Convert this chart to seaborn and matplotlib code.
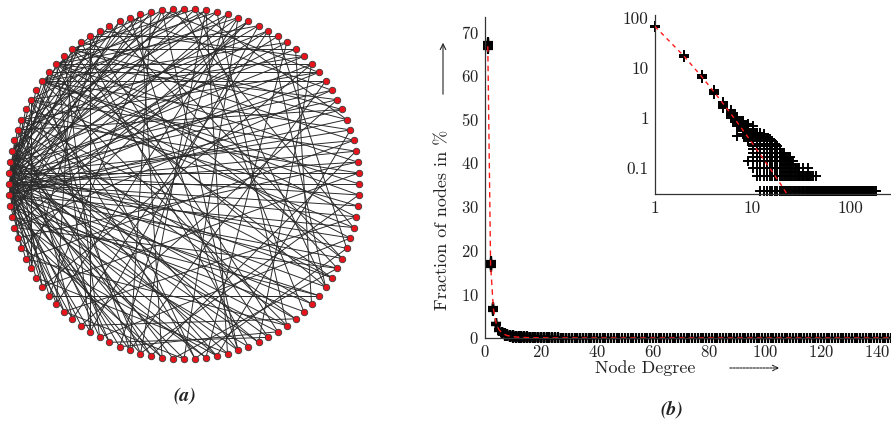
import numpy as np
import pandas as pd
import matplotlib
matplotlib.use("Agg")
import matplotlib.pyplot as plt
import seaborn as sns
from matplotlib.collections import LineCollection
from matplotlib.ticker import FixedLocator, NullLocator

# ---------------- panel (a): network on a circle ----------------
N_NET = 100
edges = [
    (50, 0), (50, 2), (50, 97), (50, 5), (50, 10), (50, 15), (50, 20), (50, 28), (50, 33),
    (50, 60), (50, 65), (50, 70), (50, 75), (50, 80), (50, 85), (50, 88), (50, 92), (50, 95),
    (50, 98), (50, 3), (50, 12), (50, 56), (50, 62), (50, 24), (50, 78),
    (49, 1), (49, 4), (49, 8), (49, 13), (49, 18), (49, 22), (49, 30), (49, 58), (49, 63),
    (49, 68), (49, 73), (49, 82), (49, 90), (49, 94), (49, 99), (49, 27),
    (51, 6), (51, 11), (51, 17), (51, 26), (51, 59), (51, 66), (51, 72), (51, 77), (51, 84),
    (51, 89), (51, 93), (51, 96), (51, 7),
    (48, 9), (48, 14), (48, 19), (48, 23), (48, 31), (48, 61), (48, 69), (48, 79), (48, 86),
    (48, 91), (48, 55),
    (52, 16), (52, 21), (52, 57), (52, 64), (52, 71), (52, 81), (52, 87), (52, 35),
    (47, 25), (47, 29), (47, 67), (47, 74), (47, 83), (47, 32),
    (40, 0), (40, 10), (40, 20), (40, 25), (40, 5), (40, 15), (40, 95), (40, 85), (40, 99),
    (40, 70), (40, 34),
    (38, 2), (38, 12), (38, 22), (38, 27), (38, 8), (38, 18), (38, 97), (38, 90), (38, 76),
    (38, 66),
    (36, 4), (36, 14), (36, 24), (36, 6), (36, 93), (36, 83), (36, 62), (36, 28),
    (42, 3), (42, 13), (42, 23), (42, 96), (42, 80), (42, 71), (42, 58),
    (44, 1), (44, 11), (44, 21), (44, 91), (44, 86), (44, 64),
    (45, 7), (45, 17), (45, 88), (45, 78), (45, 68),
    (54, 9), (54, 19), (54, 92), (54, 73), (54, 63),
    (46, 26), (46, 82), (46, 72), (46, 60),
    (53, 29), (53, 31), (53, 89), (53, 77),
    (50, 36), (50, 38), (50, 40), (50, 42), (49, 37), (49, 39), (51, 41), (51, 43),
    (48, 35), (52, 39), (50, 44), (49, 45), (51, 46),
    (1, 60), (3, 72), (5, 78), (8, 65), (10, 70), (12, 82), (14, 88), (16, 94), (18, 66),
    (20, 75), (22, 85), (24, 90), (26, 96), (28, 70), (30, 80), (32, 92), (34, 84), (6, 24),
    (9, 30), (11, 27), (13, 33), (15, 77), (17, 64), (19, 56), (21, 69), (23, 79), (25, 87),
    (27, 61), (29, 73), (31, 93), (33, 58), (35, 81), (37, 67), (39, 91), (41, 76), (43, 98),
    (57, 85), (59, 79), (61, 89), (63, 97), (65, 86), (67, 95), (69, 84), (71, 99), (74, 92),
    (76, 94), (2, 55), (4, 57), (7, 35), (20, 62), (27, 80), (17, 90), (12, 60), (23, 71),
    (56, 78), (63, 75), (68, 83), (34, 66), (61, 89), (16, 34), (11, 39),
]

# ---------------- panel (b): degree distribution ----------------
N_NODES = 3000  # nodes per realisation (fractions are counts / N_NODES in %)

head_degree = [1, 2, 3, 4, 5, 6, 7, 8, 9, 10]
head_counts = [
    [1984, 1992, 1998, 2003, 2008, 2013, 2019, 2026],
    [486, 492, 498, 503, 509, 515, 521, 526],
    [186, 191, 196, 200, 204, 209, 214],
    [88, 91, 94, 97, 100, 103, 106],
    [47, 50, 52, 54, 56, 58, 61],
    [30, 32, 34, 36, 38, 40, 42],
    [13, 20, 22, 24, 25, 27, 29, 31],
    [14, 16, 17, 18, 19, 20, 21, 22, 24, 26],
    [4, 10, 11, 12, 13, 14, 15, 16, 17, 18, 20, 22],
    [4, 6, 7, 8, 9, 10, 11, 12, 13, 14, 15, 16, 18, 20],
]

tail_level = [1, 2, 3, 4, 5, 6, 7, 8, 9, 10, 11, 12, 13, 14, 15]
tail_degrees = [
    [12, 13, 14, 15, 16, 17, 18, 19, 20, 21, 22, 23, 24, 25, 26, 27, 28, 29, 30, 31,
     32, 33, 34, 35, 36, 37, 38, 39, 40, 41, 42, 43, 44, 45, 46, 47, 48, 49, 50, 51,
     52, 53, 54, 55, 56, 57, 58, 59, 60, 61, 62, 63, 64, 65, 66, 67, 68, 69, 70, 71,
     72, 73, 74, 75, 76, 77, 78, 79, 80, 81, 82, 83, 84, 85, 86, 87, 88, 89, 90, 91,
     92, 93, 94, 95, 96, 97, 98, 99, 100, 101, 102, 103, 104, 105, 106, 107, 108, 109,
     110, 111, 112, 113, 114, 115, 116, 117, 118, 119, 120, 121, 122, 123, 124, 125,
     126, 127, 128, 129, 130, 131, 132, 133, 134, 135, 136, 137, 138, 139, 140, 141,
     142, 143, 144, 145, 146, 147, 148, 149, 150, 151, 152, 153, 154, 155, 156, 157,
     158, 159, 160, 162, 164, 167, 171, 176, 183],
    [11, 12, 13, 14, 15, 16, 17, 18, 19, 20, 21, 22, 23, 24, 25, 26, 27, 28, 29, 30,
     31, 32, 33, 34, 35, 36, 37, 38, 39, 40, 42, 45],
    [10, 11, 12, 13, 14, 15, 16, 17, 18, 19, 20, 21, 22, 23, 24, 25, 26, 27, 28, 29,
     30, 33, 37],
    [10, 11, 12, 13, 14, 15, 16, 17, 18, 19, 20, 21, 22, 23, 24, 25, 26],
    [10, 11, 12, 13, 14, 15, 16, 17, 18, 19, 20, 21, 22, 23, 24],
    [10, 11, 12, 13, 14, 15, 16, 17, 18, 19, 20, 21],
    [10, 11, 12, 13, 14, 15, 16, 17, 18, 19],
    [11, 12, 13, 14, 15, 16, 17, 18],
    [11, 12, 13, 14, 15, 16, 17],
    [11, 12, 13, 14, 15, 16],
    [11, 12, 13, 14, 15],
    [11, 12, 13, 14],
    [11, 12, 13],
    [11, 12, 13],
    [11, 12],
]

fit_degree = [1, 2, 3, 4, 5, 6, 7, 8, 9, 10, 11, 12, 13, 14, 15, 16, 17, 18, 19, 20,
              21, 22, 23, 24, 25, 30, 40, 60, 100, 150]
fit_pct = [66.67, 16.67, 6.667, 3.333, 1.905, 1.190, 0.794, 0.556, 0.404, 0.303,
           0.233, 0.183, 0.147, 0.119, 0.098, 0.082, 0.069, 0.058, 0.050, 0.043,
           0.037, 0.032, 0.028, 0.025, 0.022, 0.0134, 0.0058, 0.0018, 0.0004, 0.0001]

# ---------------- build tables ----------------
rows = []
for k, cs in zip(head_degree, head_counts):
    for c in cs:
        rows.append((k, 100.0 * c / N_NODES))
for c, ks in zip(tail_level, tail_degrees):
    for k in ks:
        rows.append((k, 100.0 * c / N_NODES))
df = pd.DataFrame(rows, columns=["degree", "pct"])
fit_df = pd.DataFrame({"degree": fit_degree, "pct": fit_pct})

theta = 2 * np.pi * np.arange(N_NET) / N_NET
nodes = pd.DataFrame({"x": np.cos(theta), "y": np.sin(theta)})

# ---------------- style ----------------
sns.set_style("white")
plt.rcParams["font.family"] = ["cmr10", "DejaVu Serif"]
plt.rcParams["axes.formatter.use_mathtext"] = True
plt.rcParams["axes.unicode_minus"] = False
TXT = "#222222"

W, H = 891, 424
fig = plt.figure(figsize=(W / 100, H / 100), dpi=100)
fig.patch.set_facecolor("white")


def px_axes(left, top, right, bottom):
    return [left / W, 1 - bottom / H, (right - left) / W, (bottom - top) / H]


# ---- panel (a)
axA = fig.add_axes(px_axes(0, 0, 368, 368))
lim = 184 / 175
axA.set_xlim(-lim, lim)
axA.set_ylim(-lim, lim)
axA.axis("off")
segs = [[(nodes.x[a], nodes.y[a]), (nodes.x[b], nodes.y[b])] for a, b in edges]
axA.add_collection(LineCollection(segs, colors="#2b2b2b", linewidths=0.7, zorder=1))
sns.scatterplot(data=nodes, x="x", y="y", ax=axA, color="#e8141c", edgecolor="#3a3a3a",
                s=22, linewidth=0.6, zorder=3, legend=False)
fig.text(185 / W, 1 - 396 / H, "(a)", ha="center", va="center", fontsize=14,
         family="STIXGeneral", style="italic", weight="bold", color=TXT)

# ---- panel (b) main axes
axB = fig.add_axes(px_axes(485, 17, 905, 338))
sns.scatterplot(data=df, x="degree", y="pct", ax=axB, marker="+", color="black",
                s=60, linewidth=1.6, clip_on=False, legend=False, zorder=2)
sns.lineplot(data=fit_df, x="degree", y="pct", ax=axB, color="#ff1a1a", lw=1.0,
             zorder=4, legend=False)
axB.lines[-1].set_dashes([4, 3])
axB.set_xlim(0, 150)
axB.set_ylim(0, 73.35)
axB.set_xticks(range(0, 160, 20))
axB.set_yticks(range(0, 80, 10))
for s in ["top", "right"]:
    axB.spines[s].set_visible(False)
for s in ["left", "bottom"]:
    axB.spines[s].set_color("#333333")
    axB.spines[s].set_linewidth(0.9)
axB.tick_params(axis="both", direction="out", length=3, width=0.8, labelsize=12,
                colors=TXT, pad=1.5)
axB.set_xlabel("Node Degree", fontsize=13, color=TXT)
axB.xaxis.set_label_coords((645 - 485) / 420, (338 - 368) / 321)
axB.xaxis.label.set_va("center")
axB.set_ylabel("Fraction of nodes in %", fontsize=13, color=TXT)
axB.yaxis.set_label_coords((443 - 485) / 420, (338 - 220) / 321)
axB.yaxis.label.set_va("center")
axB.annotate("", xy=(782, H - 368), xytext=(727, H - 368), xycoords="figure pixels",
             textcoords="figure pixels",
             arrowprops=dict(arrowstyle="->", lw=0.8, color=TXT, linestyle=(0, (2, 1))))
axB.annotate("", xy=(443, H - 40), xytext=(443, H - 97), xycoords="figure pixels",
             textcoords="figure pixels",
             arrowprops=dict(arrowstyle="->", lw=0.8, color=TXT))
fig.text(672 / W, 1 - 410 / H, "(b)", ha="center", va="center", fontsize=14,
         family="STIXGeneral", style="italic", weight="bold", color=TXT)

# ---- inset (log-log)
axI = fig.add_axes(px_axes(655, 15, 890, 194))
axI.set_xscale("log")
axI.set_yscale("log")
sns.scatterplot(data=df, x="degree", y="pct", ax=axI, marker="+", color="black",
                s=55, linewidth=1.4, clip_on=False, legend=False, zorder=2)
sns.lineplot(data=fit_df, x="degree", y="pct", ax=axI, color="#ff1a1a", lw=1.0,
             zorder=4, legend=False)
axI.lines[-1].set_dashes([3, 3])
axI.set_xlim(1, 257)
axI.set_ylim(0.0297, 113)
axI.patch.set_alpha(0)
axI.xaxis.set_major_locator(FixedLocator([1, 10, 100]))
axI.xaxis.set_minor_locator(NullLocator())
axI.set_xticklabels(["1", "10", "100"])
axI.yaxis.set_major_locator(FixedLocator([0.1, 1, 10, 100]))
axI.yaxis.set_minor_locator(NullLocator())
axI.set_yticklabels(["0.1", "1", "10", "100"])
for s in ["top", "right"]:
    axI.spines[s].set_visible(False)
for s in ["left", "bottom"]:
    axI.spines[s].set_color("#333333")
    axI.spines[s].set_linewidth(0.9)
axI.tick_params(axis="both", direction="out", length=3, width=0.8, labelsize=12.5,
                colors=TXT, pad=1.5)
axI.set_xlabel("")
axI.set_ylabel("")

fig.savefig("out.png", dpi=100, facecolor="white")
